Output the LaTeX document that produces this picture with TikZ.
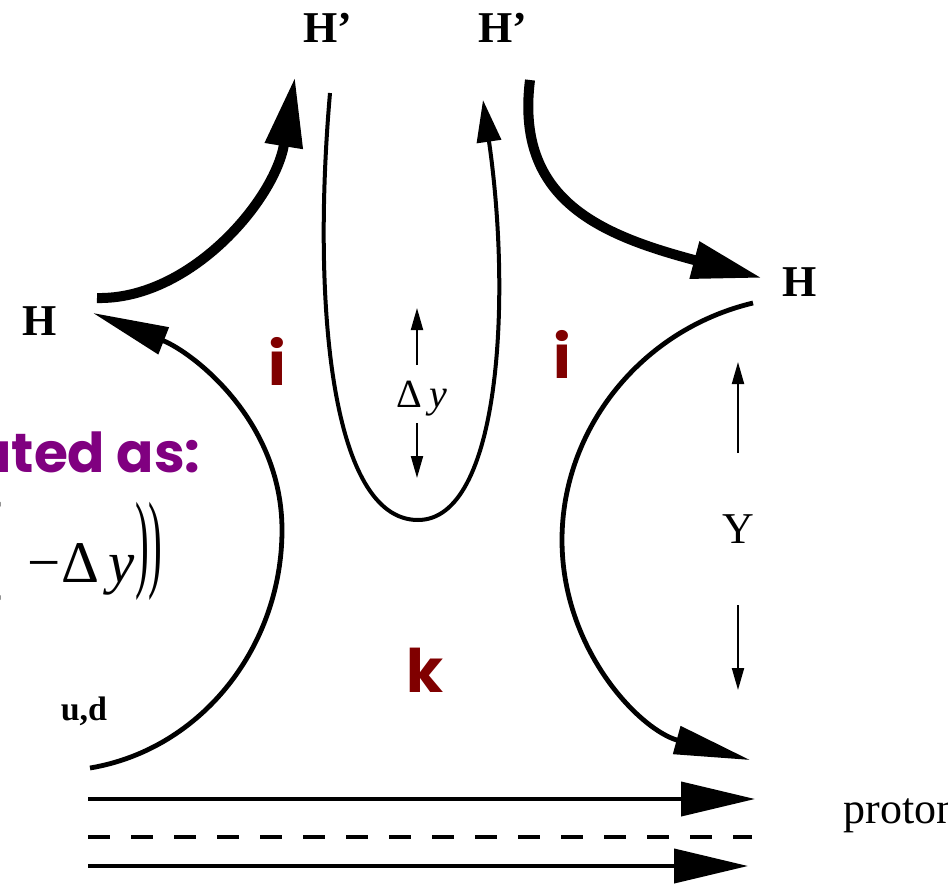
\documentclass[tikz,border=0pt]{standalone}
\usepackage{fontspec}
\usepackage{graphicx}
\setmainfont{Liberation Serif}
\newfontfamily\comicfont{Poppins}
\usetikzlibrary{arrows.meta}
\definecolor{slidepurple}{RGB}{128,0,128}
\definecolor{slidered}{RGB}{128,0,0}
\tikzset{
    hlabel/.style={inner sep=0pt, anchor=base, font=\bfseries\fontsize{22}{26}\selectfont},
    plainlabel/.style={inner sep=0pt, anchor=base, font=\fontsize{22}{26}\selectfont},
    flavour/.style={inner sep=0pt, anchor=base, text=slidered, font=\comicfont\bfseries\fontsize{30}{36}\selectfont},
    flow thick/.style={line width=5pt, -{Triangle[length=35pt, width=18pt]}},
    flow thin/.style={line width=2.4pt, -{Triangle[length=38pt, width=14pt]}},
    flow loop/.style={line width=2pt, -{Triangle[length=21pt, width=12pt]}},
    gap arrow/.style={line width=1pt, -{Triangle[length=11pt, width=6pt]}},
    beam/.style={line width=2pt},
}

\begin{document}
\begin{tikzpicture}[x=0.5pt, y=-0.5pt]
\clip (0,0) rectangle (948,884);

% cropped slide text
\node[inner sep=0pt, anchor=base east, text=slidepurple, font=\comicfont\bfseries\fontsize{27.5}{32}\selectfont] (calc) at (201,472) {ated as:};
\node[inner sep=0pt, anchor=base east, font=\fontsize{29.5}{34}\selectfont] (formula) at (163,582)
    {\raisebox{2.5pt}{\scalebox{0.7}[1.84]{(}}\hspace{13pt}−Δ\,\textit{y}\raisebox{2.5pt}{\scalebox{0.7}[1.84]{))}}};

% hadron labels
\node[hlabel] (Hl) at (40,335) {H};
\node[hlabel] (Hpl) at (328,42) {H’};
\node[hlabel] (Hpr) at (503,42) {H’};
\node[hlabel] (Hr) at (800,296) {H};
\node[hlabel, font=\bfseries\fontsize{17}{20}\selectfont] (ud) at (84,720) {u,d};
\node[plainlabel, anchor=base west] (proton) at (843,823) {proton};

% regions
\node[flavour] (il) at (277,385) {i};
\node[flavour] (ir) at (562,378) {i};
\node[flavour] (k) at (425,692) {k};

% gaps
\node[plainlabel, font=\fontsize{20}{24}\selectfont] (dy) at (422,407) {Δ\,\textit{y}};
\node[plainlabel] (Ygap) at (738,543) {Y};
\coordinate (dyUp) at (417,308);
\coordinate (dyDown) at (417,478);
\coordinate (YUp) at (738,362);
\coordinate (YDown) at (738,690);
\draw[gap arrow] (417,365) -- (dyUp);
\draw[gap arrow] (417,423) -- (dyDown);
\draw[gap arrow] (738,453) -- (YUp);
\draw[gap arrow] (738,605) -- (YDown);

% flow lines
\coordinate (udStart) at (90,768);
\coordinate (udTurn) at (282,530);
\coordinate (HlIn) at (93,313);
\coordinate (HlOut) at (97,298);
\coordinate (HplIn) at (295,77);
\coordinate (HplOut) at (330,93);
\coordinate (loopBottom) at (418,520);
\coordinate (HprIn) at (483,100);
\coordinate (HprOut) at (530,80);
\coordinate (HrIn) at (762,278);
\coordinate (HrOut) at (753,303);
\coordinate (HrTurn) at (562,540);
\coordinate (protonIn) at (750,760);

\draw[flow thin] (udStart) .. controls (203,749) and (282,645) .. (udTurn)
    .. controls (282,420) and (192,352) .. (HlIn);
\draw[flow thick] (HlOut) .. controls (190,300) and (275,200) .. (HplIn);
\draw[flow loop] (HplOut) .. controls (312,300) and (330,520) .. (loopBottom)
    .. controls (500,520) and (512,300) .. (HprIn);
\draw[flow thick] (HprOut) .. controls (515,200) and (600,235) .. (HrIn);
\draw[flow thin] (HrOut) .. controls (640,330) and (562,430) .. (HrTurn)
    .. controls (562,650) and (640,730) .. (protonIn);

% proton
\foreach \y/\tip in {799/755, 866/748} {
    \coordinate (pStart\y) at (88,\y);
    \coordinate (pEnd\y) at (\tip,\y);
    \draw[beam, -{Triangle[length=37pt, width=17pt]}] (pStart\y) -- (pEnd\y);
}
\coordinate (dashStart) at (88,837);
\coordinate (dashEnd) at (752,837);
\draw[beam, dash pattern=on 11pt off 10.5pt] (dashStart) -- (dashEnd);
\end{tikzpicture}
\end{document}
